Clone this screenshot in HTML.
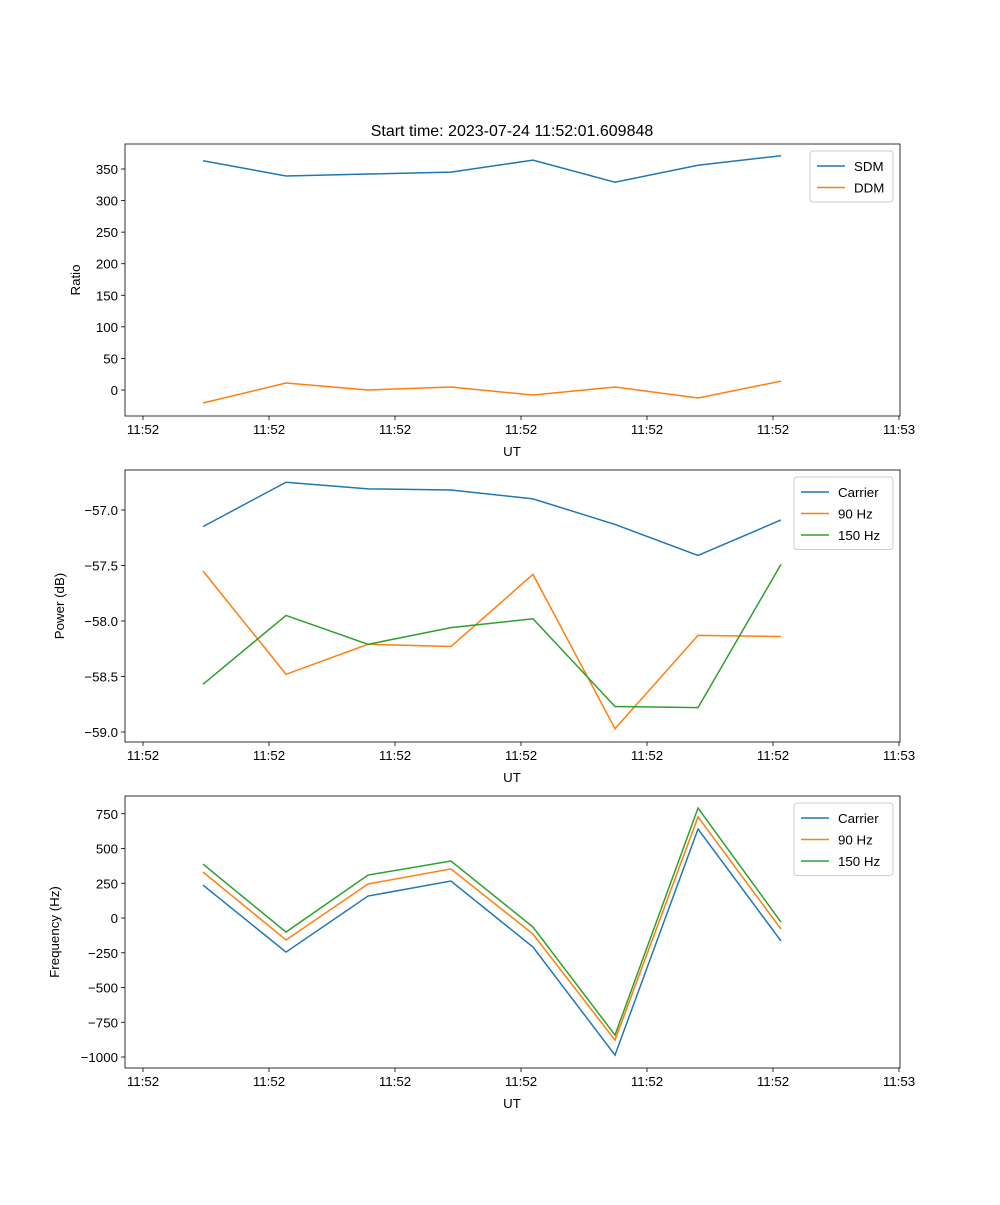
<!DOCTYPE html>
<html><head><meta charset="utf-8"><style>
body{margin:0;background:#fff}
svg text{font-family:"Liberation Sans","DejaVu Sans",sans-serif;fill:#000}
</style></head><body>
<svg id="fig" width="1000" height="1200" xmlns="http://www.w3.org/2000/svg"></svg>
<script>
const times=[0.476,1.135,1.786,2.444,3.095,3.746,4.405,5.063];
const xTicks=[0,1,2,3,4,5,6];
const xTickLabels=["11:52","11:52","11:52","11:52","11:52","11:52","11:53"];
const sdm=[363,339,342,345,364,329,356,371];
const ddm=[-20.6,11,0,4.7,-8,4.7,-12.7,14];
const pCarrier=[-57.15,-56.75,-56.81,-56.82,-56.90,-57.13,-57.41,-57.09];
const p90=[-57.55,-58.48,-58.21,-58.23,-57.58,-58.97,-58.13,-58.14];
const p150=[-58.57,-57.95,-58.21,-58.06,-57.98,-58.77,-58.78,-57.49];
const fCarrier=[237,-245,158,266,-209,-986,640,-165];
const f90=[331,-158,245,353,-115,-878,727,-79];
const f150=[388,-101,309,410,-65,-842,791,-29];
const ticks1=[0,50,100,150,200,250,300,350];
const ticks2=[-59.0,-58.5,-58.0,-57.5,-57.0];
const ticks3=[-1000,-750,-500,-250,0,250,500,750];
const C=["#1f77b4","#ff7f0e","#2ca02c"];
const NS="http://www.w3.org/2000/svg";
const svg=document.getElementById('fig');
function mk(t,a,p){const e=document.createElementNS(NS,t);for(const k in a)e.setAttribute(k,a[k]);(p||svg).appendChild(e);return e;}
const X0=125,X1=900;
const xs=t=>143+126*t;
function panel(name,top,ymin,ymax,yticks,fmt,ylabel,series,legend,lw){
  const bot=top+272;
  const g=mk('g',{});
  
  
  const ys=v=>bot-(v-ymin)/(ymax-ymin)*272;
  xTicks.forEach((t,i)=>{const x=xs(t);
    const l=mk('line',{x1:x,x2:x,y1:bot,y2:bot+4,stroke:'#000','stroke-width':0.8},g);
    
    const tx=mk('text',{x:x,y:bot+18,'text-anchor':'middle','font-size':13.3},g);tx.textContent=xTickLabels[i];
    });
  yticks.forEach(v=>{const y=ys(v);
    const l=mk('line',{x1:X0-4,x2:X0,y1:y,y2:y,stroke:'#000','stroke-width':0.8},g);
    
    const tx=mk('text',{x:X0-7,y:y+5,'text-anchor':'end','font-size':13.3},g);tx.textContent=fmt(v);
    });
  series.forEach((s,i)=>{
    const p=mk('polyline',{points:s.map((v,j)=>xs(times[j])+','+ys(v)).join(' '),fill:'none',stroke:C[i],'stroke-width':1.5},g);
    });
  const fr=mk('rect',{x:X0,y:top,width:X1-X0,height:272,fill:'none',stroke:'#000','stroke-width':0.8},g);
  
  const xl=mk('text',{x:512,y:bot+40,'text-anchor':'middle','font-size':13.3},g);xl.textContent='UT';
  
  const yx=ylabel.x;
  const yl=mk('text',{x:yx,y:top+136,'text-anchor':'middle','font-size':13.3,transform:`rotate(-90 ${yx} ${top+136})`},g);yl.textContent=ylabel.t;
  
  const lx=X1-7-lw,ly=top+7,lh=8+legend.length*21.5;
  const lg=mk('g',{},g);
  
  mk('rect',{x:lx,y:ly,width:lw,height:lh,rx:3,fill:'#fff',stroke:'#ccc','stroke-width':1},lg);
  legend.forEach((n,i)=>{const yy=ly+15+i*21.5;
    const e=mk('g',{},lg);
    mk('line',{x1:lx+7,x2:lx+35,y1:yy,y2:yy,stroke:C[i],'stroke-width':1.5},e);
    const t=mk('text',{x:lx+44,y:yy+5,'font-size':13.3},e);t.textContent=n;});
}
const tt=mk('text',{x:512,y:136,'text-anchor':'middle','font-size':16});tt.textContent='Start time: 2023-07-24 11:52:01.609848';

panel('ratio-panel',144,-41.2,389.6,ticks1,v=>String(v),{t:'Ratio',x:80},[sdm,ddm],['SDM','DDM'],83);
panel('power-panel',470,-59.09,-56.64,ticks2,v=>'\u2212'+Math.abs(v).toFixed(1),{t:'Power (dB)',x:64},[pCarrier,p90,p150],['Carrier','90 Hz','150 Hz'],99);
panel('frequency-panel',796,-1079,877.7,ticks3,v=>(v<0?'\u2212':'')+Math.abs(v),{t:'Frequency (Hz)',x:59},[fCarrier,f90,f150],['Carrier','90 Hz','150 Hz'],99);
</script>
</body></html>
